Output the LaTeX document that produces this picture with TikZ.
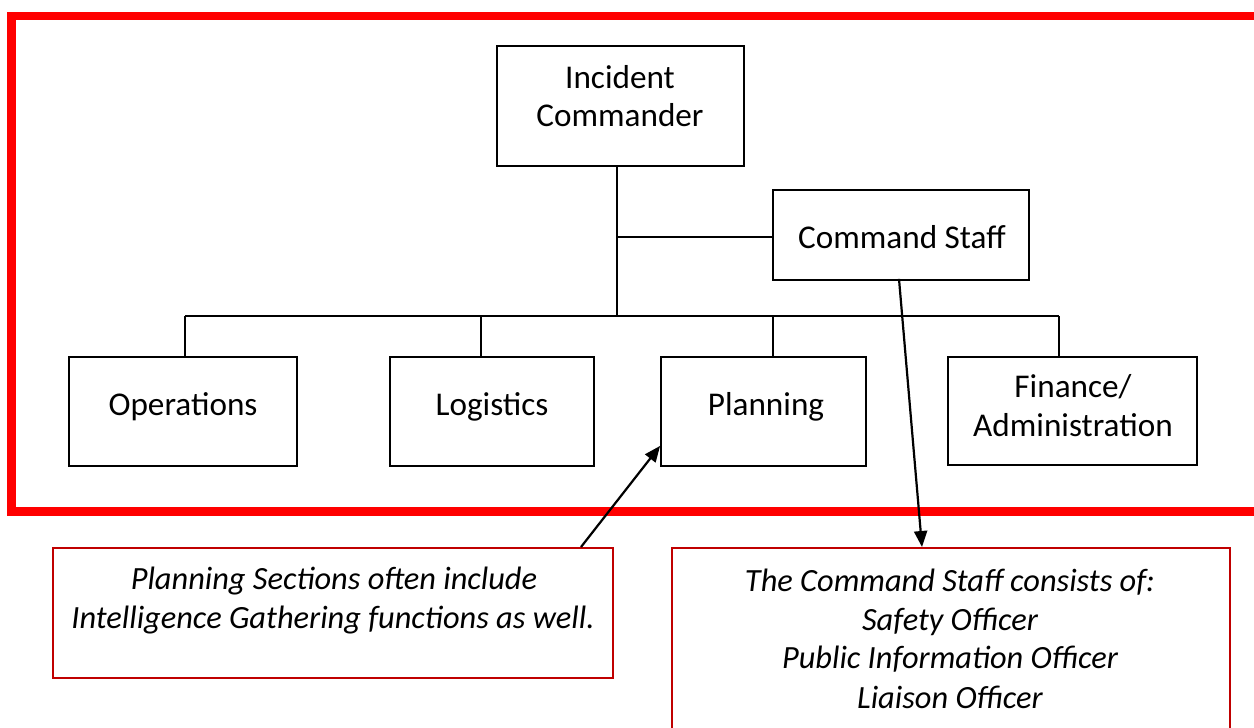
\documentclass[tikz,border=0pt]{standalone}
\usepackage{fontspec}
\setmainfont{Carlito}
\usetikzlibrary{arrows.meta}
\definecolor{calred}{HTML}{C00000}
\definecolor{framered}{HTML}{FF0000}
\begin{document}
\begin{tikzpicture}[x=1pt,y=-1pt,
  box/.style={draw=black, line width=1.8pt, rectangle, inner sep=0pt},
  callout/.style={draw=calred, line width=2pt, rectangle, inner sep=0pt},
  lbl/.style={font=\fontsize{33.2}{38.5}\selectfont, inner sep=0pt, anchor=base},
  ilbl/.style={font=\fontsize{32.4}{38.5}\selectfont\itshape, inner sep=0pt, anchor=base},
  conn/.style={line width=1.8pt},
  arr/.style={line width=2.2pt, -{Triangle[length=16pt,width=13pt]}}
]
\useasboundingbox (0,0) rectangle (1254,728);
\clip (0,0) rectangle (1254,728);
\fill[white] (0,0) rectangle (1254,728);

% red frame
\draw[framered, line width=8.5pt] (11.5,16) rectangle (1290,511.5);

% boxes
\node[box, minimum width=247pt, minimum height=120pt] (ic) at (620.5,106) {};
\node[box, minimum width=256pt, minimum height=90pt] (cs) at (901,235) {};
\node[box, minimum width=228pt, minimum height=109pt] (ops) at (183,411.5) {};
\node[box, minimum width=204pt, minimum height=109pt] (log) at (492,411.5) {};
\node[box, minimum width=205pt, minimum height=109pt] (plan) at (763.5,411.5) {};
\node[box, minimum width=249pt, minimum height=108pt] (fin) at (1072.5,411) {};

% labels
\node[lbl] (ict1) at (620,88) {Incident};
\node[lbl] (ict2) at (620,126) {Commander};
\node[lbl] (cst) at (902,248) {Command Staff};
\node[lbl] (opst) at (183,415) {Operations};
\node[lbl] (logt) at (492,415) {Logistics};
\node[lbl] (plant) at (766,415) {Planning};
\node[lbl] (fint1) at (1073,397) {Finance/};
\node[lbl] (fint2) at (1073,436) {Administration};

% connectors
\coordinate (busL) at (185,316);
\coordinate (busR) at (1059,316);
\coordinate (icj) at (617,237);
\coordinate (dlog) at (481,316);
\coordinate (dplan) at (773,316);
\draw[conn] (ic.south -| icj) -- (icj |- busL);
\draw[conn] (icj) -- (icj -| cs.west);
\draw[conn] (busL) -- (busR);
\draw[conn] (busL) -- (busL |- ops.north);
\draw[conn] (dlog) -- (dlog |- log.north);
\draw[conn] (dplan) -- (dplan |- plan.north);
\draw[conn] (busR) -- (busR |- fin.north);

% callouts
\node[callout, minimum width=560pt, minimum height=130pt] (call1) at (333,613) {};
\node[callout, minimum width=558pt, minimum height=212pt] (call2) at (951,654) {};

\node[ilbl] (c1t1) at (334,589) {Planning Sections often include};
\node[ilbl] (c1t2) at (333,628) {Intelligence Gathering functions as well.};
\node[ilbl] (c2t1) at (950,591) {The Command Staff consists of:};
\node[ilbl] (c2t2) at (950,630) {Safety Officer};
\node[ilbl] (c2t3) at (950,668) {Public Information Officer};
\node[ilbl] (c2t4) at (950,708) {Liaison Officer};

% arrows
\draw[arr] ([xshift=248pt]call1.north) -- ([yshift=21pt]plan.south west);
\draw[arr] ([xshift=-2pt,yshift=2pt]cs.south) -- ([xshift=-29pt]call2.north);
\end{tikzpicture}
\end{document}
